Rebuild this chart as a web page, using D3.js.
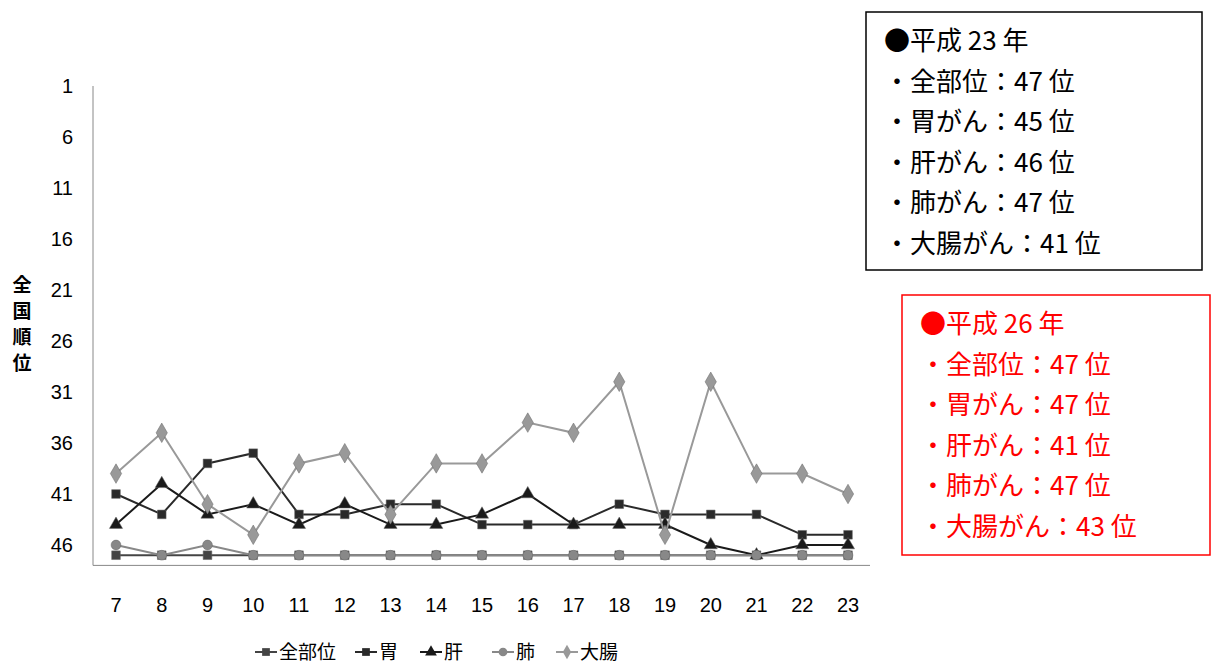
<!DOCTYPE html>
<html><head><meta charset="utf-8">
<script src="https://cdn.jsdelivr.net/npm/d3@7"></script>
<style>body{margin:0;background:#fff;font-family:"Noto Sans CJK JP",sans-serif;}</style>
</head><body>
<svg id="c" width="1214" height="666"></svg>
<script>
var years = [7,8,9,10,11,12,13,14,15,16,17,18,19,20,21,22,23];
var yTicks = [1,6,11,16,21,26,31,36,41,46];
var allSites = [47,47,47,47,47,47,47,47,47,47,47,47,47,47,47,47,47];
var stomach = [41,43,38,37,43,43,42,42,44,44,44,42,43,43,43,45,45];
var liver = [44,40,43,42,44,42,44,44,43,41,44,44,44,46,47,46,46];
var lung = [46,47,46,47,47,47,47,47,47,47,47,47,47,47,47,47,47];
var colon = [39,35,42,45,38,37,43,38,38,34,35,30,45,30,39,39,41];
var box23 = ["●平成 23 年","・全部位：47 位","・胃がん：45 位","・肝がん：46 位","・肺がん：47 位","・大腸がん：41 位"];
var box26 = ["●平成 26 年","・全部位：47 位","・胃がん：47 位","・肝がん：41 位","・肺がん：47 位","・大腸がん：43 位"];

var series = [
	{name:"全部位", data:allSites, color:"#444", sym:d3.symbolSquare},
	{name:"胃", data:stomach, color:"#2a2a2a", sym:d3.symbolSquare},
	{name:"肝", data:liver, color:"#1a1a1a", sym:d3.symbolTriangle},
	{name:"肺", data:lung, color:"#888", sym:d3.symbolCircle},
	{name:"大腸", data:colon, color:"#999", sym:d3.symbolDiamond}
];

var svg = d3.select("#c");
var x = d3.scalePoint().domain(years).range([116,848]);
var y = d3.scaleLinear().domain([1,46]).range([86,545]);
var bottom = y(48);

svg.append("line").attr("x1",93).attr("x2",93).attr("y1",86).attr("y2",bottom).attr("stroke","#888");
svg.append("line").attr("x1",93).attr("x2",870).attr("y1",bottom).attr("y2",bottom).attr("stroke","#888");

svg.selectAll(".yt").data(yTicks).enter().append("text")
	.attr("x",73).attr("y",d=>y(d)+7).attr("text-anchor","end")
	.attr("font-size",20).attr("font-family","Liberation Sans, sans-serif").text(d=>d);
svg.selectAll(".xt").data(years).enter().append("text")
	.attr("x",d=>x(d)).attr("y",612).attr("text-anchor","middle")
	.attr("font-size",20).attr("font-family","Liberation Sans, sans-serif").text(d=>d);

svg.selectAll(".yl").data("全国順位".split("")).enter().append("text")
	.attr("x",22).attr("y",(d,i)=>292+i*26).attr("text-anchor","middle")
	.attr("font-size",19).attr("font-weight","bold").text(d=>d);

var line = d3.line().x((d,i)=>x(years[i])).y(d=>y(d));
series.forEach(function(s){
	svg.append("path").attr("d",line(s.data)).attr("fill","none")
		.attr("stroke",s.color).attr("stroke-width",2);
	svg.selectAll(null).data(s.data).enter().append("path")
		.attr("d",d3.symbol().type(s.sym).size(s.sym===d3.symbolDiamond?110:75))
		.attr("transform",(d,i)=>"translate("+x(years[i])+","+y(d)+")")
		.attr("fill",s.color).attr("stroke","#666").attr("stroke-width",0.5);
});

// legend
var lx = [255,355,420,492,556];
series.forEach(function(s,i){
	var g = svg.append("g").attr("transform","translate("+lx[i]+",652)");
	g.append("line").attr("x1",0).attr("x2",22).attr("stroke",s.color).attr("stroke-width",2);
	g.append("path").attr("d",d3.symbol().type(s.sym).size(60)).attr("transform","translate(11,0)").attr("fill",s.color);
	g.append("text").attr("x",24).attr("y",7).attr("font-size",19).text(s.name);
});

function box(lines,x0,y0,w,h,col){
	svg.append("rect").attr("x",x0).attr("y",y0).attr("width",w).attr("height",h)
		.attr("fill","#fff").attr("stroke",col).attr("stroke-width",1.5);
	svg.selectAll(null).data(lines).enter().append("text")
		.attr("x",x0+18).attr("y",(d,i)=>y0+38+i*40.5).attr("font-size",26).attr("fill",col).text(d=>d);
}
box(box23,866,12,336,258,"#000");
box(box26,902,295,308,260,"#f00");
</script>
</body></html>
